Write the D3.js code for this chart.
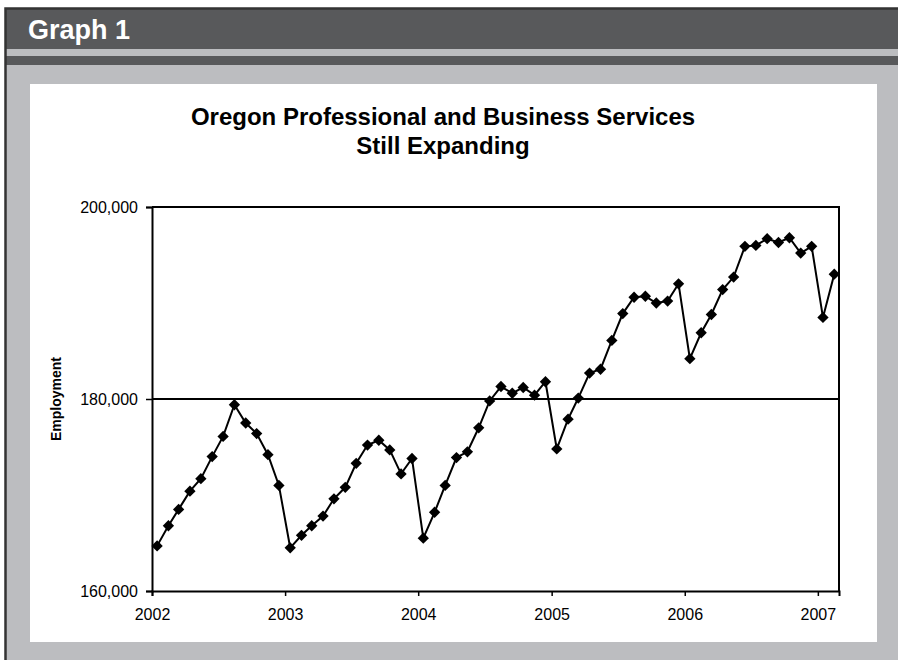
<!DOCTYPE html>
<html>
<head>
<meta charset="utf-8">
<script src="https://cdn.jsdelivr.net/npm/d3@7"></script>
<style>
  html, body { margin: 0; padding: 0; background: #ffffff; }
  svg { display: block; font-family: Arial, "Liberation Sans", Helvetica, sans-serif; }
</style>
</head>
<body>
<svg id="chart" width="898" height="660"></svg>
<script>
// Monthly employment, Oregon professional & business services, Jan 2002 - Feb 2007
const years = [2002, 2003, 2004, 2005, 2006, 2007];
const emp2002 = [164700, 166800, 168500, 170400, 171700, 174000, 176100, 179400, 177500, 176400, 174200, 171000];
const emp2003 = [164500, 165800, 166800, 167800, 169600, 170800, 173300, 175200, 175700, 174700, 172200, 173800];
const emp2004 = [165500, 168200, 171000, 173900, 174500, 177000, 179800, 181300, 180600, 181200, 180400, 181800];
const emp2005 = [174800, 177900, 180100, 182700, 183100, 186100, 188900, 190600, 190700, 190000, 190200, 192000];
const emp2006 = [184200, 186900, 188800, 191400, 192700, 195900, 196000, 196700, 196300, 196800, 195200, 195900];
const emp2007 = [188500, 193000];
const yTicks = [160000, 180000, 200000];

const title1 = "Oregon Professional and Business Services";
const title2 = "Still Expanding";
const yTitle = "Employment";
const header = "Graph 1";

// monthly series, each value placed mid-month
const series = [emp2002, emp2003, emp2004, emp2005, emp2006, emp2007]
  .flatMap((vals, yi) => vals.map((v, m) => ({ date: new Date(years[yi], m, 15), value: v })));

const svg = d3.select("#chart");

// page frame: dark header strip, grey body, white chart panel
svg.append("rect").attr("x", 0).attr("y", 0).attr("width", 898).attr("height", 660).attr("fill", "#ffffff");
svg.append("rect").attr("x", 5).attr("y", 9).attr("width", 893).attr("height", 651).attr("fill", "#bcbdc0");
svg.append("rect").attr("x", 5).attr("y", 9).attr("width", 893).attr("height", 40).attr("fill", "#58595b");
svg.append("rect").attr("x", 5).attr("y", 56).attr("width", 893).attr("height", 9).attr("fill", "#58595b");
svg.append("path").attr("d", "M5.5,660 V8.5 H898").attr("fill", "none").attr("stroke", "#333333").attr("stroke-width", 2.5);
svg.append("text").attr("x", 28).attr("y", 39)
  .attr("fill", "#ffffff").attr("font-size", 27).attr("font-weight", "bold").text(header);
svg.append("rect").attr("x", 30).attr("y", 84).attr("width", 847).attr("height", 558).attr("fill", "#ffffff");

// chart titles
svg.append("text").attr("x", 443).attr("y", 125).attr("text-anchor", "middle")
  .attr("font-size", 24).attr("font-weight", "bold").attr("fill", "#000").text(title1);
svg.append("text").attr("x", 443).attr("y", 154).attr("text-anchor", "middle")
  .attr("font-size", 24).attr("font-weight", "bold").attr("fill", "#000").text(title2);

// plot area bounds
const plotLeft = 152, plotRight = 839, plotTop = 207, plotBottom = 591;
const x = d3.scaleTime()
  .domain([new Date(2002, 0, 1), new Date(2007, 1, 28)])
  .range([plotLeft, plotRight]);
const y = d3.scaleLinear().domain([160000, 200000]).range([plotBottom, plotTop]);

const g = svg.append("g");

// gridline at the middle tick
g.selectAll("line.grid").data(yTicks.slice(1, -1)).join("line")
  .attr("class", "grid")
  .attr("x1", plotLeft).attr("x2", plotRight)
  .attr("y1", d => y(d)).attr("y2", d => y(d))
  .attr("stroke", "#000").attr("stroke-width", 2);

// plot border (top and right)
g.append("path")
  .attr("d", `M${plotLeft},${y(200000)} H${plotRight} V${plotBottom}`)
  .attr("fill", "none").attr("stroke", "#000").attr("stroke-width", 2);

// axes
const yAxis = d3.axisLeft(y).tickValues(yTicks).tickFormat(d3.format(",")).tickSize(6).tickPadding(8);
const xAxis = d3.axisBottom(x).tickValues(years.map(yr => new Date(yr, 0, 1)))
  .tickFormat(d3.timeFormat("%Y")).tickSize(5).tickPadding(13);

const gy = g.append("g").attr("transform", `translate(${plotLeft},0)`).call(yAxis);
const gx = g.append("g").attr("transform", `translate(0,${plotBottom})`).call(xAxis);
[gx, gy].forEach(ax => {
  ax.select(".domain").attr("stroke", "#000").attr("stroke-width", 2);
  ax.selectAll(".tick line").attr("stroke", "#000").attr("stroke-width", 1.5);
  ax.selectAll(".tick text").attr("fill", "#000").attr("font-size", 16)
    .attr("font-family", "Arial, 'Liberation Sans', sans-serif");
});

// y axis title
svg.append("text")
  .attr("transform", "translate(61,399) rotate(-90)")
  .attr("text-anchor", "middle")
  .attr("font-size", 14).attr("font-weight", "bold").attr("fill", "#000")
  .text(yTitle);

// series line
const line = d3.line().x(d => x(d.date)).y(d => y(d.value));
g.append("path").datum(series)
  .attr("d", line)
  .attr("fill", "none").attr("stroke", "#000").attr("stroke-width", 2)
  .attr("stroke-linejoin", "miter");

// square diamond markers
const squareDiamond = {
  draw(context, size) {
    const r = Math.sqrt(size / 2);
    context.moveTo(0, -r);
    context.lineTo(r, 0);
    context.lineTo(0, r);
    context.lineTo(-r, 0);
    context.closePath();
  }
};
g.selectAll("path.marker").data(series).join("path")
  .attr("class", "marker")
  .attr("transform", d => `translate(${x(d.date)},${y(d.value)})`)
  .attr("d", d3.symbol().type(squareDiamond).size(64))
  .attr("fill", "#000");
</script>
</body>
</html>
